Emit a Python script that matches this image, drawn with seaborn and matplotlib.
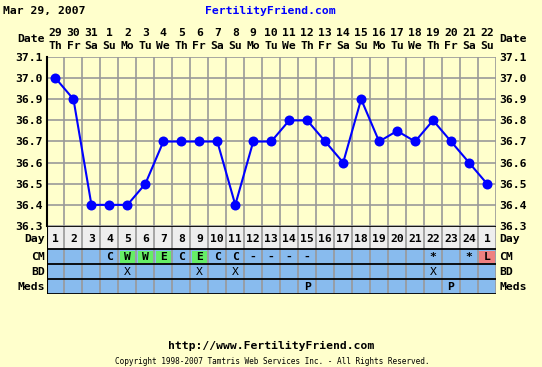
import matplotlib
matplotlib.use("Agg")
import matplotlib.pyplot as plt
import seaborn as sns
import pandas as pd
import numpy as np
from matplotlib.patches import Rectangle

# ---- data ----
dates = ["29", "30", "31", "1", "2", "3", "4", "5", "6", "7", "8", "9", "10", "11",
         "12", "13", "14", "15", "16", "17", "18", "19", "20", "21", "22"]
weekdays = ["Th", "Fr", "Sa", "Su", "Mo", "Tu", "We", "Th", "Fr", "Sa", "Su", "Mo", "Tu",
            "We", "Th", "Fr", "Sa", "Su", "Mo", "Tu", "We", "Th", "Fr", "Sa", "Su"]
cycle_days = ["1", "2", "3", "4", "5", "6", "7", "8", "9", "10", "11", "12", "13", "14",
              "15", "16", "17", "18", "19", "20", "21", "22", "23", "24", "1"]
temps = [37.0, 36.9, 36.4, 36.4, 36.4, 36.5, 36.7, 36.7, 36.7, 36.7, 36.4, 36.7, 36.7,
         36.8, 36.8, 36.7, 36.6, 36.9, 36.7, 36.75, 36.7, 36.8, 36.7, 36.6, 36.5]
cm = ["", "", "", "C", "W", "W", "E", "C", "E", "C", "C", "-", "-", "-", "-",
      "", "", "", "", "", "", "*", "", "*", "L"]
bd = ["", "", "", "", "X", "", "", "", "X", "", "X", "", "", "", "", "", "", "", "",
      "", "", "X", "", "", ""]
meds = ["", "", "", "", "", "", "", "", "", "", "", "", "", "", "P", "", "", "", "", "",
        "", "", "P", "", ""]
yticks = [36.3, 36.4, 36.5, 36.6, 36.7, 36.8, 36.9, 37.0, 37.1]

BG = "#FFFFCC"
GRID = "#999999"
ROWBLUE = "#88BBEE"
GREEN = "#66EE66"
RED = "#EE8080"
DAYGRAY = "#EEEEEE"
FONT = "DejaVu Sans Mono"
FS = 8.2

sns.set_theme(style="white")
plt.rcParams["font.family"] = [FONT]
plt.rcParams["text.color"] = "black"
plt.rcParams["xtick.color"] = "black"
plt.rcParams["ytick.color"] = "black"

W, H = 542, 367
fig = plt.figure(figsize=(W / 100, H / 100), dpi=100, facecolor=BG)

L, R = 46.5, 496.0
T_top, T_bot = 57.0, 226.0
tab_bot = 294.0

def fx(px):
    return px / W

def fy(py):
    return 1 - py / H

ax = fig.add_axes([fx(L), fy(T_bot), fx(R - L), fy(T_top) - fy(T_bot)])
ax.set_facecolor(BG)
n = len(temps)
df = pd.DataFrame({"x": np.arange(n) + 0.5, "temp": temps})
sns.lineplot(data=df, x="x", y="temp", ax=ax, color="#0000FF", linewidth=1.5,
             marker="o", markersize=7.2, markeredgewidth=0, zorder=5)
ax.set_xlim(0, n)
ax.set_ylim(36.3, 37.1)
ax.set_xticks(np.arange(n + 1))
ax.set_xticklabels([])
ax.set_yticks(yticks)
ax.set_yticklabels([f"{v:.1f}" for v in yticks], fontsize=FS, fontweight="bold")
ax.tick_params(axis="y", length=0, pad=2.5, labelright=True, labelleft=True)
ax.tick_params(axis="x", length=0)
ax.grid(True, color=GRID, linewidth=1.2)
ax.set_xlabel("")
ax.set_ylabel("")
for s in ["top", "right", "bottom"]:
    ax.spines[s].set_visible(False)
ax.spines["left"].set_color("black")
ax.spines["left"].set_linewidth(1.5)

# date header
for i in range(n):
    ax.text(i + 0.5, 37.1 + 0.8 * 24 / 169, dates[i], ha="center", va="center",
            fontsize=FS, fontweight="bold", clip_on=False)
    ax.text(i + 0.5, 37.1 + 0.8 * 11 / 169, weekdays[i], ha="center", va="center",
            fontsize=FS, fontweight="bold", clip_on=False)

# table axes
tax = fig.add_axes([fx(L), fy(tab_bot), fx(R - L), fy(T_bot) - fy(tab_bot)])
tax.set_xlim(0, n)
tax.set_ylim(tab_bot, T_bot)
tax.axis("off")
tax.add_patch(Rectangle((0, 226), n, 23, facecolor=DAYGRAY, edgecolor="none"))
tax.add_patch(Rectangle((0, 249), n, 45, facecolor=ROWBLUE, edgecolor="none"))
for i in range(n):
    c = cm[i]
    if c in ("W", "E"):
        tax.add_patch(Rectangle((i + 0.08, 250.5), 0.84, 12.5, facecolor=GREEN, edgecolor="none"))
    if c == "L":
        tax.add_patch(Rectangle((i + 0.08, 250.5), 0.84, 12.5, facecolor=RED, edgecolor="none"))
for i in range(n + 1):
    tax.plot([i, i], [226, 294], color=GRID, linewidth=1.2)
for yy in [226, 249, 264, 279, 294]:
    tax.plot([0, n], [yy, yy], color="black", linewidth=1.3)
tax.plot([0, 0], [226, 294], color="black", linewidth=1.5)

for i in range(n):
    tax.text(i + 0.5, 238.5, cycle_days[i], ha="center", va="center", fontsize=FS, fontweight="bold")
    tax.text(i + 0.5, 257, cm[i], ha="center", va="center", fontsize=FS, fontweight="bold")
    tax.text(i + 0.5, 272, bd[i], ha="center", va="center", fontsize=FS)
    tax.text(i + 0.5, 287, meds[i], ha="center", va="center", fontsize=FS, fontweight="bold")

# row labels
labels = [("Date", 39), ("Day", 238.5), ("CM", 257), ("BD", 272), ("Meds", 287)]
for txt, py in labels:
    fig.text(fx(44.5), fy(py), txt, ha="right", va="center", fontsize=FS, fontweight="bold")
    fig.text(fx(499), fy(py), txt, ha="left", va="center", fontsize=FS, fontweight="bold")

fig.text(fx(3), fy(11), "Mar 29, 2007", ha="left", va="center", fontsize=FS, fontweight="bold")
fig.text(fx(270), fy(11), "FertilityFriend.com", ha="center", va="center", fontsize=FS,
         fontweight="bold", color="#0000FF")
fig.text(fx(271), fy(346), "http://www.FertilityFriend.com", ha="center", va="center",
         fontsize=FS, fontweight="bold")
fig.text(fx(272), fy(362), "Copyright 1998-2007 Tamtris Web Services Inc. - All Rights Reserved.",
         ha="center", va="center", fontsize=5.6)

fig.savefig("out.png", dpi=100, facecolor=BG)
